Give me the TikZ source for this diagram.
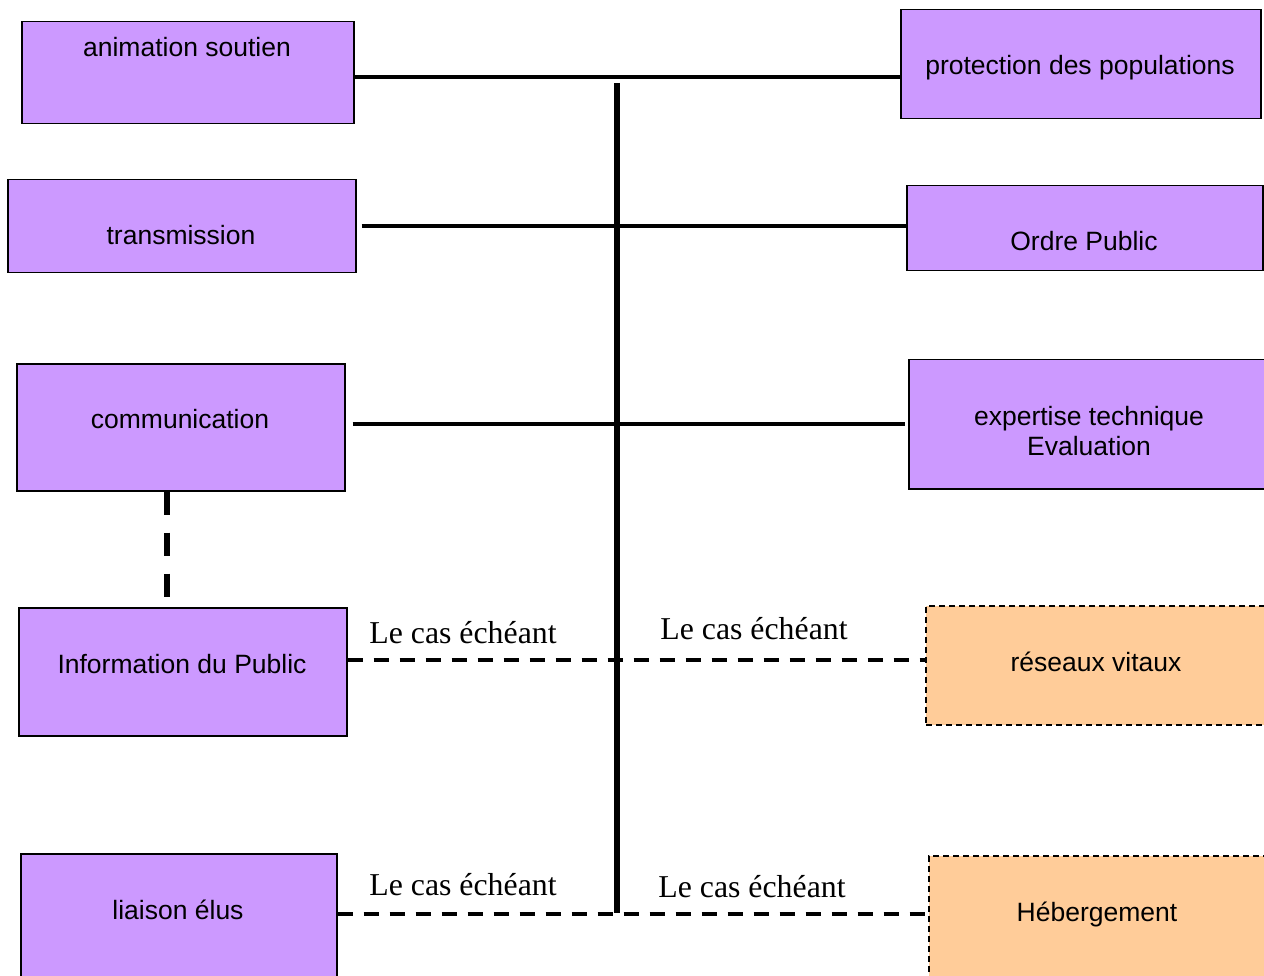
\documentclass[tikz,border=0pt]{standalone}
\usepackage{fontspec}
\setmainfont{Liberation Sans}
\newfontfamily\labelfont{Liberation Serif}
\begin{document}
\begin{tikzpicture}[x=1pt,y=-1pt,
  every node/.style={inner sep=0pt},
  pbox/.style={draw=black, line width=1.5pt, fill=violetfill, anchor=north west},
  obox/.style={draw=black, line width=1.5pt, dash pattern=on 6pt off 4pt, fill=peachfill, anchor=north west},
  boxtext/.style={font=\fontsize{26.5}{30}\selectfont, align=center, text height=0.72em, text depth=0pt, yshift=-6pt},
  note/.style={font=\labelfont\fontsize{31.8}{34}\selectfont, text height=0.68em, text depth=0pt, yshift=-7pt},
  hline/.style={line width=3.5pt},
  spine/.style={line width=5.5pt},
  dline/.style={line width=3.5pt, dash pattern=on 15pt off 11pt},
  vdline/.style={line width=5.5pt, dash pattern=on 23pt off 18pt}]
\definecolor{violetfill}{RGB}{204,153,255}
\definecolor{peachfill}{RGB}{255,204,153}
\useasboundingbox (0,0) rectangle (1264,976);
\clip (0,0) rectangle (1264,976);

% left column
\node[pbox, minimum width=332pt, minimum height=102pt] (anim) at (21,21) {};
\node[boxtext] (animT) at (187,47) {animation soutien};
\node[pbox, minimum width=348pt, minimum height=93pt] (trans) at (7,179) {};
\node[boxtext] (transT) at (181,235) {transmission};
\node[pbox, minimum width=328pt, minimum height=127pt] (comm) at (16,363) {};
\node[boxtext] (commT) at (180,419) {communication};
\node[pbox, minimum width=328pt, minimum height=128pt] (info) at (18,607) {};
\node[boxtext] (infoT) at (182,664) {Information du Public};
\node[pbox, minimum width=316pt, minimum height=140pt] (elus) at (20,853) {};
\node[boxtext] (elusT) at (178,910) {liaison élus};

% right column
\node[pbox, minimum width=360pt, minimum height=109pt] (prot) at (900,9) {};
\node[boxtext] (protT) at (1080,65) {protection des populations};
\node[pbox, minimum width=356pt, minimum height=85pt] (ordre) at (906,185) {};
\node[boxtext] (ordreT) at (1084,241) {Ordre Public};
\node[pbox, minimum width=370pt, minimum height=129pt] (expert) at (908,359) {};
\node[boxtext] (expertT) at (1089,446) {expertise technique\\Evaluation};
\node[obox, minimum width=360pt, minimum height=119pt] (reseau) at (925,605) {};
\node[boxtext] (reseauT) at (1096,662) {réseaux vitaux};
\node[obox, minimum width=360pt, minimum height=140pt] (heberg) at (928,855) {};
\node[boxtext] (hebergT) at (1097,912) {Hébergement};

% central spine
\coordinate (spTop) at (617,83);
\coordinate (spBot) at (617,913);
\draw[spine] (spTop) -- (spBot);

% solid links
\draw[hline] (anim.east |- 0,77) -- (prot.west |- 0,77);
\draw[hline] ([xshift=5pt]trans.east |- 0,226) -- (ordre.west |- 0,226);
\draw[hline] ([xshift=7pt]comm.east |- 0,424) -- ([xshift=-3pt]expert.west |- 0,424);

% optional links
\draw[dline] (info.east |- 0,660) -- (reseau.west |- 0,660);
\draw[dline] (elus.east |- 0,914) -- (heberg.west |- 0,914);
\draw[vdline] (comm.south -| 167,0) -- ([yshift=7pt]info.north -| 167,0);

% link notes
\node[note] (n1) at (463,633) {Le cas échéant};
\node[note] (n2) at (754,629) {Le cas échéant};
\node[note] (n3) at (463,885) {Le cas échéant};
\node[note] (n4) at (752,887) {Le cas échéant};
\end{tikzpicture}
\end{document}
